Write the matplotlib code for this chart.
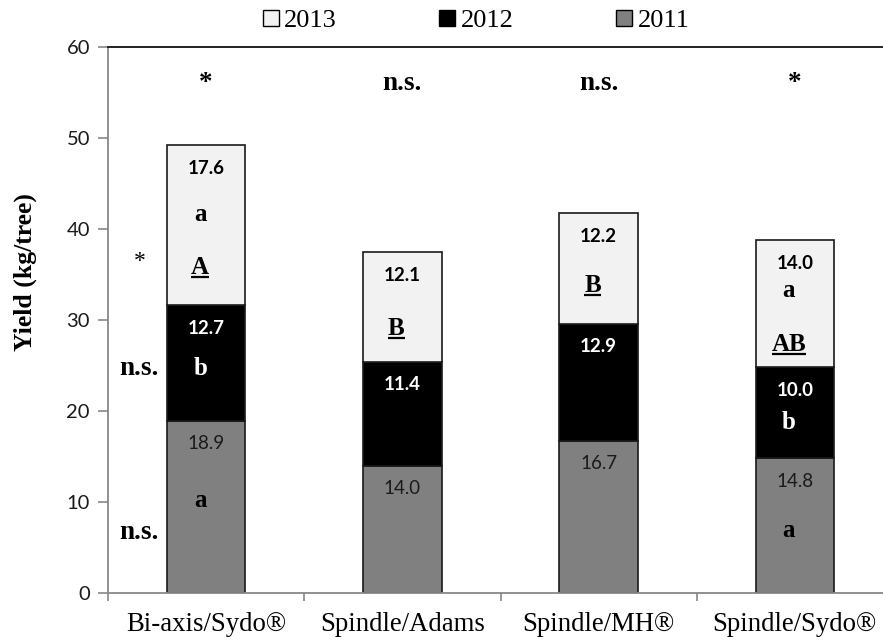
import numpy as np
import matplotlib
matplotlib.use("Agg")
import matplotlib.pyplot as plt
from matplotlib.patches import Patch

# yields (kg/tree) per training system, stacked by year
systems = ["Bi-axis/Sydo®", "Spindle/Adams", "Spindle/MH®", "Spindle/Sydo®"]
y2011 = [18.9, 14.0, 16.7, 14.8]
y2012 = [12.7, 11.4, 12.9, 10.0]
y2013 = [17.6, 12.1, 12.2, 14.0]

# significance above each bar
top_sig = ["*", "n.s.", "n.s.", "*"]
# significance per year (left of first bar): 2013, 2012, 2011
year_sig = ["*", "n.s.", "n.s."]

SERIF = "Liberation Serif"
SANS = "Lato"

fig = plt.figure(figsize=(8.83, 6.42), dpi=100)
ax = fig.add_axes([108 / 883, 49 / 642, 785 / 883, 546 / 642])

x = np.arange(len(systems))
w = 0.4
ax.bar(x, y2011, w, color="#808080", edgecolor="#1a1a1a", linewidth=1.2)
bottom12 = np.array(y2011)
ax.bar(x, y2012, w, bottom=bottom12, color="black", edgecolor="#1a1a1a", linewidth=1.2)
bottom13 = bottom12 + np.array(y2012)
ax.bar(x, y2013, w, bottom=bottom13, color="#f2f2f2", edgecolor="#1a1a1a", linewidth=1.2)
totals = bottom13 + np.array(y2013)

ax.set_xlim(-0.5, 3.5)
ax.set_ylim(0, 60)
ax.set_yticks(range(0, 61, 10))
ax.set_xticks(x)
ax.set_xticklabels(systems, fontfamily=SERIF, fontsize=19.3)
ax.set_xticks(np.arange(-0.5, 4.0, 1.0), minor=True)
ax.tick_params(axis="x", which="major", length=0, pad=14)
ax.tick_params(axis="x", which="minor", length=6, color="#888888", width=1.2)
ax.tick_params(axis="y", length=7, color="#888888", width=1.2, labelsize=14.5,
               pad=6, labelcolor="#1a1a1a")
for lab in ax.get_yticklabels():
    lab.set_fontfamily(SANS)

for s in ["left", "bottom"]:
    ax.spines[s].set_color("#888888")
    ax.spines[s].set_linewidth(1.3)
ax.spines["top"].set_color("#222222")
ax.spines["top"].set_linewidth(1.4)
ax.spines["right"].set_visible(False)

# value labels near the top of each segment
for i in range(len(systems)):
    ax.text(x[i], y2011[i] - 2.5, f"{y2011[i]:.1f}", ha="center", va="center",
            fontfamily=SANS, fontsize=13.5, color="#1a1a1a")
    ax.text(x[i], bottom13[i] - 2.5, f"{y2012[i]:.1f}", ha="center", va="center",
            fontfamily=SANS, fontsize=13.5, fontweight="bold", color="white")
    ax.text(x[i], totals[i] - 2.6, f"{y2013[i]:.1f}", ha="center", va="center",
            fontfamily=SANS, fontsize=13.5, fontweight="bold", color="black")

# letter groupings (bar index, text, y, colour, underlined)
letters = [
    (0, "a", 41.6, "black", False),
    (0, "A", 35.8, "black", True),
    (0, "b", 24.7, "white", False),
    (0, "a", 10.2, "black", False),
    (1, "B", 29.1, "black", True),
    (2, "B", 33.8, "black", True),
    (3, "a", 33.2, "black", False),
    (3, "AB", 27.3, "black", True),
    (3, "b", 18.7, "white", False),
    (3, "a", 6.9, "black", False),
]
underlined = []
for i, s, yy, c, ul in letters:
    t = ax.text(x[i] - 0.03, yy, s, ha="center", va="center", fontfamily=SERIF,
                fontsize=18, fontweight="bold", color=c)
    if ul:
        underlined.append(t)

for i, s in enumerate(top_sig):
    ax.text(x[i], 56.0, s, ha="center", va="center", fontfamily=SERIF,
            fontsize=19.5, fontweight="bold")

for s, yy in zip(year_sig, [36.4, 24.7, 6.7]):
    ax.text(-0.34, yy, s, ha="center", va="center", fontfamily=SERIF,
            fontsize=19.5 if s != "*" else 17,
            fontweight="bold" if s != "*" else "normal")

fig.text(25 / 883, 1 - 272 / 642, "Yield (kg/tree)", rotation=90, ha="center",
         va="center", fontfamily=SERIF, fontsize=18.5, fontweight="bold")

handles = [Patch(facecolor="#f2f2f2", edgecolor="black", label="2013"),
           Patch(facecolor="black", edgecolor="black", label="2012"),
           Patch(facecolor="#808080", edgecolor="black", label="2011")]
fig.legend(handles=handles, loc="center", bbox_to_anchor=(476 / 883, 1 - 21 / 642),
           ncol=3, frameon=False, prop={"family": SERIF, "size": 19},
           handlelength=0.6, handleheight=0.6, handletextpad=0.2, columnspacing=3.9)

# underline the capital-letter groupings
fig.canvas.draw()
r = fig.canvas.get_renderer()
inv = ax.transData.inverted()
for t in underlined:
    bb = t.get_window_extent(r)
    (x0, y0), (x1, _) = inv.transform([(bb.x0, bb.y0), (bb.x1, bb.y0)])
    ax.plot([x0, x1], [y0 + 0.2, y0 + 0.2], color=t.get_color(), lw=1.6,
            solid_capstyle="butt")

fig.savefig("out.png", dpi=100)
